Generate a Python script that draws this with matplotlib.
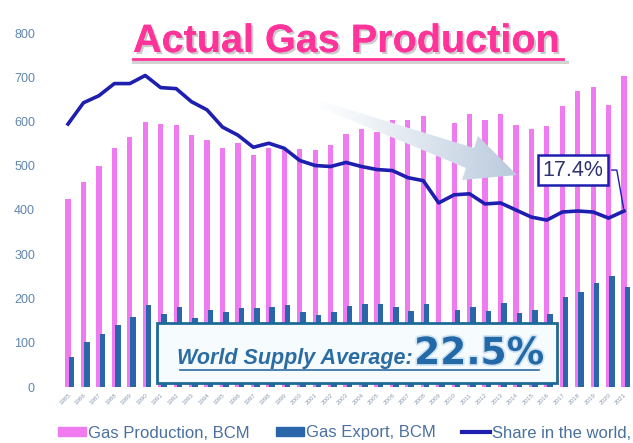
import numpy as np
import matplotlib
matplotlib.use("Agg")
import matplotlib.pyplot as plt
from matplotlib.patches import Patch, Polygon, Rectangle
from matplotlib.lines import Line2D
import matplotlib.patheffects as pe

plt.rcParams['font.family'] = ['Liberation Sans', 'DejaVu Sans']

years = list(range(1985, 2022))

# gas production, BCM
production = [424, 463, 500, 541, 565, 598, 594, 592, 570, 559, 541, 551, 524,
              541, 535, 537, 535, 548, 571, 584, 576, 604, 603, 612, 527, 597,
              618, 603, 616, 591, 584, 589, 635, 670, 679, 638, 702]

# gas export, BCM
export = [68, 102, 120, 140, 159, 185, 165, 181, 157, 174, 169, 178, 178,
          181, 185, 170, 162, 170, 184, 187, 187, 181, 172, 187, 140, 174,
          181, 172, 189, 168, 175, 166, 204, 214, 234, 251, 226]

# share in world production, %
share = [26.0, 28.1, 28.8, 30.0, 30.0, 30.8, 29.6, 29.5, 28.2, 27.4, 25.7,
         24.9, 23.7, 24.1, 23.6, 22.4, 21.9, 21.8, 22.2, 21.8, 21.5, 21.4,
         20.7, 20.4, 18.2, 19.0, 19.1, 18.1, 18.2, 17.5, 16.8, 16.5, 17.3,
         17.4, 17.3, 16.7, 17.4]

PINK = '#f07af0'
BLUE = '#2a66aa'
NAVY = '#1e1eb0'
TICK = '#5f86b0'

W, H = 633, 443
fig = plt.figure(figsize=(W / 100, H / 100), dpi=100)
ax = fig.add_axes([50 / W, 56 / H, 583 / W, 354 / H])

x = np.arange(len(years))
ax.bar(x, production, width=0.34, color=PINK, zorder=2)
ax.bar(x + 0.22, export, width=0.36, color=BLUE, zorder=3)

ax.set_xlim(-1.166, 36.58)
ax.set_ylim(0, 800)
ax.set_yticks(range(0, 801, 100))
ax.tick_params(axis='y', length=0, pad=10.8, labelsize=9, labelcolor=TICK)
ax.set_xticks(x)
ax.set_xticklabels(years, rotation=45, ha='right', rotation_mode='anchor',
                   fontsize=4.5, color='#8c9bb0')
ax.tick_params(axis='x', length=0, pad=4)
for s in ax.spines.values():
    s.set_visible(False)

# average box
ax.add_patch(Rectangle((0.1835, 0.0113), 0.686, 0.17, transform=ax.transAxes,
                       facecolor='#f6fbfe', edgecolor='#1d6a96', lw=2, zorder=4))
t1 = ax.text(0.218, 0.064, 'World Supply Average:', transform=ax.transAxes,
             fontsize=15.5, fontweight='bold', fontstyle='italic', color='#2b6ca3',
             zorder=5)
ax.annotate(f'{np.mean(share):.1f}%', xy=(1, 0), xycoords=t1, va='bottom',
            xytext=(1, -2), textcoords='offset points', family='DejaVu Sans',
            fontsize=27, fontweight='bold', color='#2369a8', zorder=5,
            path_effects=[pe.withStroke(linewidth=2.5, foreground='#cfe3f3')])
ax.plot([0.223, 0.838], [0.048, 0.048], transform=ax.transAxes,
        color='#2b6ca3', lw=1.2, zorder=5)

# share line on hidden secondary scale
ax2 = ax.twinx()
ax2.set_ylim(0, 35)
ax2.axis('off')
ax2.plot(x, share, color=NAVY, lw=2.6, zorder=3)
ax2.annotate(f'{share[-1]:.1f}%', xy=(x[-1], share[-1]), xytext=(32.7, 21.45),
             ha='center', va='center', fontsize=15.5, color='#2e3370',
             bbox=dict(boxstyle='square,pad=0.2', fc='white', ec=NAVY, lw=1.8),
             arrowprops=dict(arrowstyle='-', color=NAVY, lw=1,
                             connectionstyle='angle,angleA=0,angleB=100,rad=0'))

# decorations in pixel space
deco = fig.add_axes([0, 0, 1, 1])
deco.set_xlim(0, W)
deco.set_ylim(H, 0)
deco.axis('off')
deco.patch.set_visible(False)

deco.plot([133, 567], [61.5, 61.5], color='#d2d2d2', lw=2.2)

arrow = Polygon([(321, 101), (474, 148), (478, 136), (517, 175),
                 (462, 180), (466, 168), (319, 107)], closed=True,
                facecolor='none', edgecolor='none')
deco.add_patch(arrow)
grad = np.linspace(0, 1, 256).reshape(1, -1)
cmap = matplotlib.colors.LinearSegmentedColormap.from_list(
    'arr', ['#ffffff', '#dfe7f0', '#b9c9dc'])
im = deco.imshow(grad, extent=[316, 520, 182, 98], cmap=cmap, aspect='auto',
                 zorder=6)
im.set_clip_path(arrow)
deco.set_xlim(0, W)
deco.set_ylim(H, 0)

title = fig.text(133 / W, 1 - 52 / H, 'Actual Gas Production', fontsize=28.5,
                 fontweight='bold', color='#ff3399', va='baseline',
                 path_effects=[pe.withSimplePatchShadow(offset=(1.5, -1.5),
                                                        shadow_rgbFace='#999999',
                                                        alpha=0.5),
                               pe.Normal()])
deco.plot([133, 563], [58.5, 58.5], color='#ff3399', lw=2)

handles = [Patch(color=PINK), Patch(color=BLUE), Line2D([], [], color=NAVY, lw=3)]
labels = ['Gas Production, BCM', 'Gas Export, BCM', 'Share in the world,']
fig.legend(handles, labels, loc='center left', bbox_to_anchor=(58 / W, 1 - 433 / H),
           ncol=3, frameon=False, fontsize=12, labelcolor='#4a70a0',
           handlelength=1.65, handleheight=0.42, handletextpad=0.12,
           columnspacing=1.62, borderpad=0, borderaxespad=0)

fig.savefig('out.png', dpi=100)
